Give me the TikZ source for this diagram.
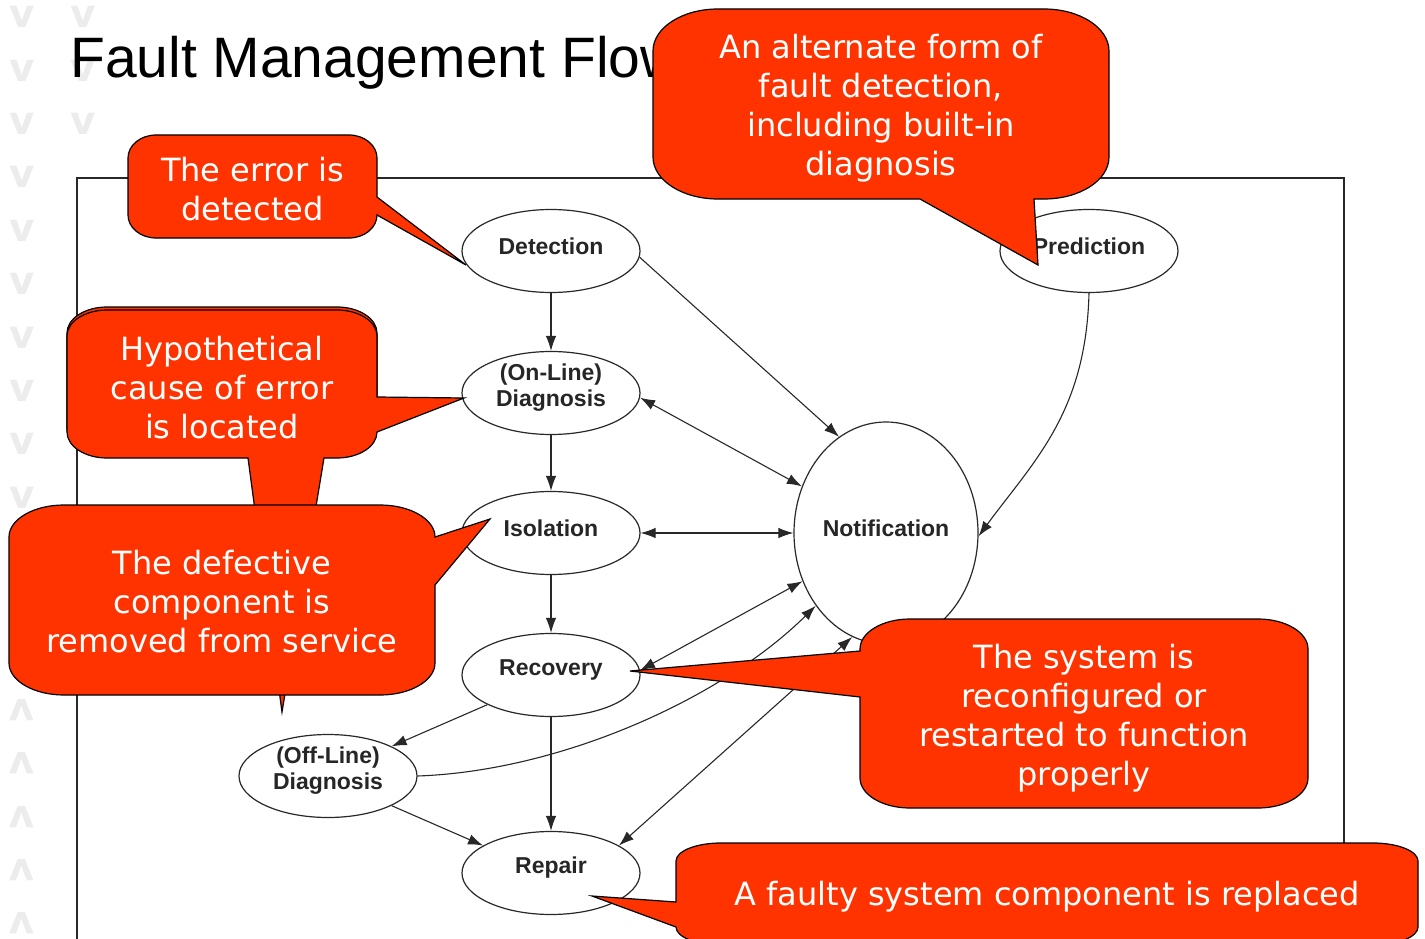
\documentclass[tikz,border=0pt]{standalone}
\usepackage{fontspec}
\setmainfont{DejaVu Sans}
\newfontfamily\arialfont{Liberation Sans}
\usetikzlibrary{shapes.geometric,arrows.meta,calc}
\definecolor{calloutred}{RGB}{255,51,0}
\definecolor{chevgray}{RGB}{236,236,236}
\definecolor{inkgray}{RGB}{40,40,40}

% Speech bubble: box L,T,R,B with elliptical corners (rx,ry);
% #7, #8, #9 add tail points on the right, bottom and left edges.
\newcommand\bubble[9]{%
  \filldraw[callout] (#1+#5,#2) -- (#3-#5,#2)
    .. controls (#3-#5+0.552*#5,#2) and (#3,#2+#6-0.552*#6) .. (#3,#2+#6)
    #7 -- (#3,#4-#6)
    .. controls (#3,#4-#6+0.552*#6) and (#3-#5+0.552*#5,#4) .. (#3-#5,#4)
    #8 -- (#1+#5,#4)
    .. controls (#1+#5-0.552*#5,#4) and (#1,#4-#6+0.552*#6) .. (#1,#4-#6)
    #9 -- (#1,#2+#6)
    .. controls (#1,#2+#6-0.552*#6) and (#1+#5-0.552*#5,#2) .. (#1+#5,#2) -- cycle;}

\begin{document}
\begin{tikzpicture}[x=1pt,y=-1pt,
  stage/.style={ellipse, draw=inkgray, line width=1.2pt, fill=white,
    minimum width=178pt, minimum height=83pt, inner sep=0pt},
  stagelabel/.style={inner sep=0pt, align=center,
    font=\arialfont\bfseries\fontsize{23}{26}\selectfont, text=black!85},
  flow/.style={draw=inkgray, line width=1.1pt, -{Latex[length=15pt,width=10.5pt]}},
  twoway/.style={draw=inkgray, line width=1.1pt,
    {Latex[length=15pt,width=10.5pt]}-{Latex[length=15pt,width=10.5pt]}},
  callout/.style={fill=calloutred, draw=black, line width=1.2pt, line join=miter},
  callouttext/.style={text=white, align=center, font=\fontsize{32}{39}\selectfont, inner sep=0pt},
  chevron/.style={text=chevgray, font=\bfseries\fontsize{39}{39}\selectfont, inner sep=0pt},
]
\useasboundingbox (0,0) rectangle (1425,939);
\clip (0,0) rectangle (1425,939);

% slide decoration down the left margin
\foreach \k in {0,...,9} \node[chevron] (vl\k) at (22,17+53.4*\k) {v};
\foreach \k in {0,1,2} \node[chevron] (vr\k) at (83,17+53.4*\k) {v};
\foreach \k in {0,...,4} \node[chevron, rotate=180] (up\k) at (22,710+53.4*\k) {v};

% frame of the embedded figure
\draw[inkgray, line width=1.4pt] (77,178) rectangle (1344,1000);

% title
\node[anchor=base west, inner sep=0pt, font=\arialfont\fontsize{57}{60}\selectfont] (title) at (70,78) {Fault Management Flow};

% stages
\node[stage] (det) at (551,251) {};
\node[stage] (diag) at (551,393) {};
\node[stage] (iso) at (551,533) {};
\node[stage] (rec) at (551,675) {};
\node[stage] (rep) at (551,873) {};
\node[stage] (offd) at (328,776) {};
\node[stage] (pred) at (1089,251) {};
\node[stage, minimum width=184pt, minimum height=222pt] (notif) at (886,533) {};

\node[stagelabel] (det-l) at ($(det)+(0,-5)$) {Detection};
\node[stagelabel] (diag-l) at ($(diag)+(0,-5)$) {(On-Line)\\Diagnosis};
\node[stagelabel] (iso-l) at ($(iso)+(0,-5)$) {Isolation};
\node[stagelabel] (rec-l) at ($(rec)+(0,-5)$) {Recovery};
\node[stagelabel] (rep-l) at ($(rep)+(0,-5)$) {Repair};
\node[stagelabel] (offd-l) at ($(offd)+(0,-5)$) {(Off-Line)\\Diagnosis};
\node[stagelabel] (pred-l) at ($(pred)+(0,-5)$) {Prediction};
\node[stagelabel] (notif-l) at ($(notif)+(0,-5)$) {Notification};

% transitions
\draw[flow] (det) -- (diag);
\draw[flow] (diag) -- (iso);
\draw[flow] (iso) -- (rec);
\draw[flow] (rec) -- (rep);
\draw[flow] (det.-4) -- (notif.116);
\draw[twoway] (diag.-3) -- (notif.151);
\draw[twoway] (iso) -- (notif);
\draw[twoway] (rec.3) -- (notif.210);
\draw[flow] (rec.205) -- (offd.25);
\draw[flow] (offd.-25) -- (rep.158);
\draw[twoway] (rep.22) -- (notif.252);
\draw[flow] (offd.east) .. controls ($(offd.east)+(143,-5)$) and ($(notif.226)+(-94,93)$) .. (notif.226);
\draw[flow] (pred.south) .. controls ($(pred.south)+(-3,120)$) and ($(notif.-2)+(55,-75)$) .. (notif.-2);

% callouts
\bubble{128}{135}{377}{238}{28}{23}{-- (377,197) -- (466,265) -- (377,215)}{}{}
\bubble{653}{9}{1109}{199}{65}{42}{}{-- (1034,199) -- (1038,265) -- (920,199)}{}
\bubble{67}{307}{377}{455}{40}{26}{}{}{}
\bubble{67}{310}{377}{458}{40}{26}{-- (377,397) -- (464,398) -- (377,432)}{-- (324,458) -- (282,712) -- (248,458)}{}
\bubble{9}{505}{435}{695}{55}{32}{-- (435,537) -- (490,519) -- (435,585)}{}{}
\bubble{860}{619}{1308}{808}{50}{30}{}{}{-- (860,697) -- (630,671) -- (860,651)}
\bubble{676}{843}{1418}{945}{45}{18}{}{}{-- (676,927) -- (592,896) -- (676,902)}

\node[callouttext] (c1) at (252.5,189) {The error is\\detected};
\node[callouttext] (c2) at (881,108) {An alternate form of\\fault detection,\\including built-in\\diagnosis};
\node[callouttext] (c3) at (222,388) {Hypothetical\\cause of error\\is located};
\node[callouttext] (c4) at (222,602) {The defective\\component is\\removed from service};
\node[callouttext] (c5) at (1084,718) {The system is\\reconfigured or\\restarted to function\\properly};
\node[callouttext] (c6) at (1047,897) {A faulty system component is replaced};
\end{tikzpicture}
\end{document}
